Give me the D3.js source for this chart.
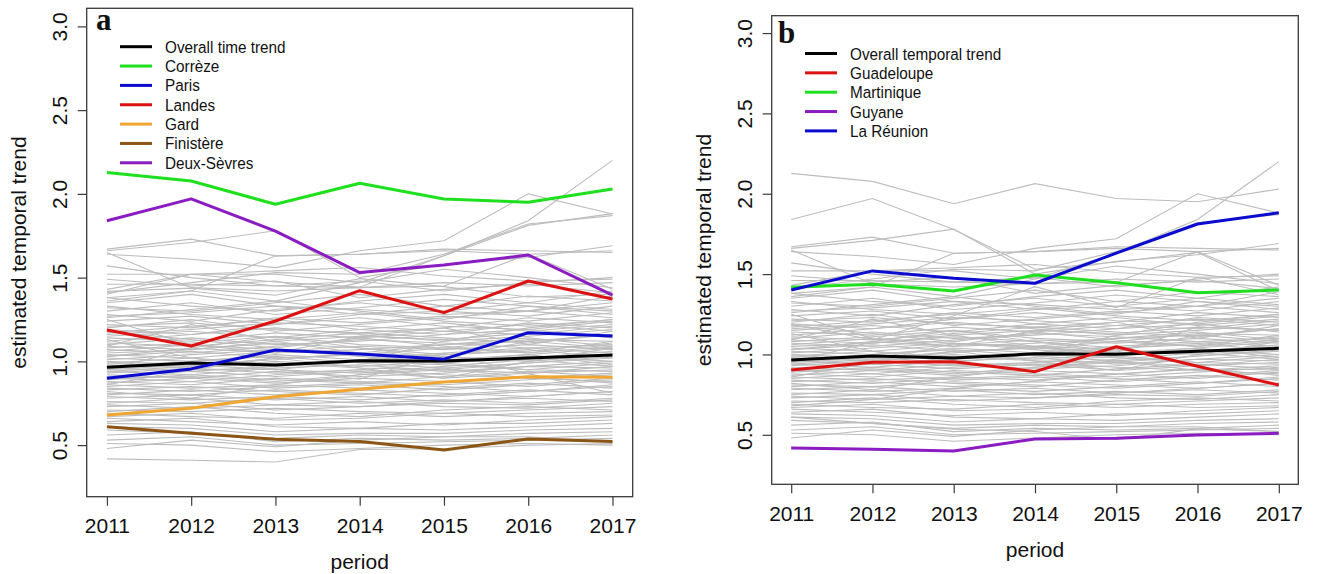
<!DOCTYPE html>
<html>
<head>
<meta charset="utf-8">
<script src="https://cdn.jsdelivr.net/npm/d3@7/dist/d3.min.js"></script>
<style>
  html, body { margin: 0; padding: 0; background: #fff; }
  svg { display: block; }
  text { font-family: "Liberation Sans", Arial, sans-serif; fill: #111; }
</style>
</head>
<body>
<svg id="chart" width="1317" height="574"></svg>
<script>
// ---- data -------------------------------------------------------------
const years = [2011, 2012, 2013, 2014, 2015, 2016, 2017];
const yTicks = [0.5, 1.0, 1.5, 2.0, 2.5, 3.0];

// overall trend (same in both panels)
const overallTrend = [0.965, 0.99, 0.978, 1.004, 1.002, 1.02, 1.038];

// metropolitan departments highlighted in panel a
const correze    = [2.127, 2.077, 1.938, 2.063, 1.970, 1.950, 2.029];
const paris      = [0.899, 0.955, 1.068, 1.044, 1.013, 1.171, 1.152];
const landes     = [1.187, 1.092, 1.241, 1.422, 1.291, 1.480, 1.372];
const gard       = [0.680, 0.720, 0.789, 0.833, 0.877, 0.908, 0.905];
const finistere  = [0.610, 0.571, 0.535, 0.521, 0.471, 0.537, 0.521];
const deuxSevres = [1.840, 1.970, 1.778, 1.530, 1.575, 1.635, 1.396];

// overseas departments highlighted in panel b
const guadeloupe = [0.903, 0.951, 0.955, 0.893, 1.048, 0.927, 0.810];
const martinique = [1.418, 1.437, 1.395, 1.494, 1.446, 1.384, 1.401];
const guyane     = [0.418, 0.410, 0.399, 0.474, 0.478, 0.499, 0.509];
const laReunion  = [1.401, 1.520, 1.474, 1.443, 1.630, 1.812, 1.882];

// remaining departments (drawn in grey)
const otherDepartments = [
  [1.38, 1.42, 1.36, 1.47, 1.63, 1.84, 2.20],
  [1.64, 1.61, 1.56, 1.66, 1.72, 2.00, 1.88],
  [1.41, 1.47, 1.53, 1.52, 1.64, 1.82, 1.87],
  [1.67, 1.73, 1.63, 1.64, 1.66, 1.64, 1.66],
  [1.66, 1.71, 1.78, 1.50, 1.58, 1.62, 1.69],
  [1.65, 1.44, 1.42, 1.44, 1.45, 1.64, 1.43],
  [1.57, 1.50, 1.45, 1.48, 1.42, 1.47, 1.50],
  [1.52, 1.52, 1.54, 1.56, 1.51, 1.48, 1.49],
  [1.46, 1.46, 1.45, 1.44, 1.47, 1.45, 1.47],
  [1.36, 1.42, 1.63, 1.64, 1.67, 1.66, 1.65],
  [1.43, 1.52, 1.52, 1.47, 1.55, 1.50, 1.44],
  [1.49, 1.45, 1.48, 1.38, 1.43, 1.46, 1.41],
  [1.38, 1.33, 1.30, 1.36, 1.40, 1.35, 1.42],
  [1.35, 1.40, 1.33, 1.28, 1.33, 1.39, 1.36],
  [1.32, 1.30, 1.35, 1.40, 1.33, 1.30, 1.35],
  [1.30, 1.35, 1.28, 1.32, 1.37, 1.33, 1.30],
  [1.28, 1.24, 1.31, 1.35, 1.30, 1.27, 1.33],
  [1.26, 1.31, 1.36, 1.30, 1.25, 1.33, 1.28],
  [1.24, 1.27, 1.22, 1.28, 1.30, 1.35, 1.31],
  [1.22, 1.20, 1.26, 1.23, 1.27, 1.24, 1.29],
  [1.20, 1.25, 1.18, 1.22, 1.26, 1.30, 1.26],
  [1.19, 1.16, 1.22, 1.26, 1.21, 1.19, 1.24],
  [1.17, 1.21, 1.25, 1.19, 1.16, 1.23, 1.20],
  [1.15, 1.18, 1.14, 1.19, 1.23, 1.18, 1.22],
  [1.14, 1.12, 1.17, 1.14, 1.18, 1.22, 1.18],
  [1.12, 1.16, 1.20, 1.16, 1.12, 1.15, 1.19],
  [1.11, 1.09, 1.13, 1.17, 1.14, 1.11, 1.16],
  [1.10, 1.14, 1.10, 1.12, 1.16, 1.19, 1.14],
  [1.08, 1.11, 1.15, 1.10, 1.08, 1.13, 1.12],
  [1.07, 1.05, 1.09, 1.13, 1.11, 1.08, 1.10],
  [1.06, 1.10, 1.07, 1.05, 1.10, 1.14, 1.09],
  [1.05, 1.07, 1.11, 1.08, 1.04, 1.06, 1.11],
  [1.04, 1.02, 1.06, 1.09, 1.07, 1.10, 1.07],
  [1.03, 1.06, 1.02, 1.04, 1.08, 1.05, 1.09],
  [1.02, 1.00, 1.04, 1.01, 1.05, 1.08, 1.05],
  [1.01, 1.04, 1.07, 1.03, 0.99, 1.02, 1.06],
  [1.00, 0.98, 1.01, 1.05, 1.03, 1.00, 1.04],
  [0.99, 1.02, 0.98, 1.00, 1.04, 1.07, 1.02],
  [0.98, 0.96, 1.00, 0.97, 1.00, 1.03, 1.00],
  [0.97, 1.00, 1.03, 0.99, 0.96, 0.99, 1.03],
  [0.96, 0.94, 0.97, 1.00, 0.98, 0.95, 0.99],
  [0.95, 0.98, 0.95, 0.93, 0.97, 1.01, 0.97],
  [0.94, 0.92, 0.96, 0.98, 0.94, 0.97, 1.00],
  [0.93, 0.96, 0.93, 0.95, 0.99, 0.95, 0.94],
  [0.92, 0.90, 0.94, 0.91, 0.93, 0.97, 0.96],
  [0.91, 0.94, 0.91, 0.94, 0.90, 0.93, 0.97],
  [0.90, 0.88, 0.92, 0.95, 0.92, 0.90, 0.93],
  [0.89, 0.92, 0.89, 0.87, 0.91, 0.94, 0.91],
  [0.88, 0.86, 0.90, 0.88, 0.86, 0.89, 0.92],
  [0.87, 0.90, 0.87, 0.90, 0.88, 0.85, 0.89],
  [0.86, 0.84, 0.86, 0.84, 0.88, 0.91, 0.87],
  [0.85, 0.88, 0.84, 0.86, 0.83, 0.86, 0.90],
  [0.84, 0.82, 0.85, 0.87, 0.85, 0.82, 0.85],
  [0.83, 0.85, 0.82, 0.80, 0.84, 0.87, 0.84],
  [0.81, 0.80, 0.83, 0.81, 0.79, 0.82, 0.86],
  [0.80, 0.83, 0.80, 0.83, 0.81, 0.79, 0.82],
  [0.79, 0.77, 0.79, 0.77, 0.80, 0.83, 0.80],
  [0.78, 0.80, 0.77, 0.79, 0.76, 0.79, 0.82],
  [0.76, 0.75, 0.78, 0.75, 0.77, 0.75, 0.78],
  [0.75, 0.78, 0.74, 0.73, 0.76, 0.78, 0.76],
  [0.74, 0.72, 0.74, 0.76, 0.73, 0.72, 0.75],
  [0.73, 0.75, 0.71, 0.73, 0.75, 0.74, 0.77],
  [0.71, 0.70, 0.72, 0.70, 0.69, 0.71, 0.73],
  [0.70, 0.73, 0.69, 0.67, 0.71, 0.73, 0.71],
  [0.69, 0.67, 0.66, 0.69, 0.67, 0.69, 0.70],
  [0.67, 0.69, 0.65, 0.66, 0.69, 0.67, 0.68],
  [0.66, 0.64, 0.62, 0.64, 0.62, 0.65, 0.67],
  [0.64, 0.66, 0.61, 0.60, 0.63, 0.63, 0.65],
  [0.63, 0.62, 0.58, 0.60, 0.59, 0.61, 0.63],
  [0.61, 0.60, 0.56, 0.57, 0.57, 0.59, 0.60],
  [0.59, 0.57, 0.54, 0.56, 0.55, 0.57, 0.58],
  [0.56, 0.58, 0.52, 0.54, 0.53, 0.54, 0.56],
  [0.53, 0.55, 0.50, 0.51, 0.52, 0.53, 0.54],
  [0.48, 0.53, 0.49, 0.53, 0.55, 0.55, 0.52],
  [0.51, 0.50, 0.46, 0.48, 0.50, 0.51, 0.50],
  [1.25, 1.10, 1.05, 1.15, 1.20, 1.10, 1.18],
  [0.95, 1.08, 1.15, 1.08, 1.02, 1.12, 1.16],
  [1.13, 1.02, 0.95, 1.00, 1.12, 1.20, 1.25],
  [0.86, 0.95, 1.02, 0.96, 0.90, 1.00, 1.08],
  [1.09, 1.22, 1.12, 1.05, 1.00, 1.04, 0.98],
  [0.82, 0.78, 0.86, 0.92, 0.96, 0.90, 0.88],
  [1.18, 1.13, 1.08, 1.14, 1.09, 1.05, 1.12],
  [1.21, 1.23, 1.19, 1.17, 1.20, 1.26, 1.23],
  [1.16, 1.19, 1.23, 1.21, 1.18, 1.16, 1.21],
  [1.09, 1.07, 1.12, 1.15, 1.13, 1.17, 1.15],
  [1.03, 1.08, 1.05, 1.07, 1.10, 1.12, 1.08],
  [0.99, 0.97, 1.02, 1.04, 1.01, 1.04, 1.08],
  [0.94, 0.97, 0.99, 0.96, 0.95, 0.99, 1.02],
  [0.90, 0.91, 0.88, 0.92, 0.95, 0.93, 0.95],
  [1.33, 1.28, 1.25, 1.29, 1.24, 1.21, 1.25],
  [1.27, 1.29, 1.33, 1.31, 1.28, 1.30, 1.39]
];

// ---- chart ------------------------------------------------------------
const allDepartments = otherDepartments.concat([
  correze, paris, landes, gard, finistere, deuxSevres,
  guadeloupe, martinique, guyane, laReunion
]);

const colors = {
  black: "#000000", green: "#1fe01f", blue: "#0b0bd0", red: "#dc1212",
  orange: "#f0a632", brown: "#8b5516", purple: "#8a1cc2"
};

const panels = [
  {
    letter: "a",
    box: { left: 86.7, right: 632.7, top: 8.3, bottom: 496.7 },
    letterPos: [96, 30],
    legendPos: [120, 46.7],
    series: [
      { name: "Overall time trend", values: overallTrend, color: colors.black },
      { name: "Corrèze", values: correze, color: colors.green },
      { name: "Paris", values: paris, color: colors.blue },
      { name: "Landes", values: landes, color: colors.red },
      { name: "Gard", values: gard, color: colors.orange },
      { name: "Finistère", values: finistere, color: colors.brown },
      { name: "Deux-Sèvres", values: deuxSevres, color: colors.purple }
    ]
  },
  {
    letter: "b",
    box: { left: 771.7, right: 1298.3, top: 15.7, bottom: 484.3 },
    letterPos: [778, 42.5],
    legendPos: [805, 53.5],
    series: [
      { name: "Overall temporal trend", values: overallTrend, color: colors.black },
      { name: "Guadeloupe", values: guadeloupe, color: colors.red },
      { name: "Martinique", values: martinique, color: colors.green },
      { name: "Guyane", values: guyane, color: colors.purple },
      { name: "La Réunion", values: laReunion, color: colors.blue }
    ]
  }
];

const svg = d3.select("#chart");
const xPad = 0.04 * (years[years.length - 1] - years[0]);
const yLo = 0.3, yHi = 3.0, yPad = 0.04 * (yHi - yLo);

panels.forEach(p => {
  const b = p.box;
  const x = d3.scaleLinear()
    .domain([years[0] - xPad, years[years.length - 1] + xPad])
    .range([b.left, b.right]);
  const y = d3.scaleLinear()
    .domain([yLo - yPad, yHi + yPad])
    .range([b.bottom, b.top]);

  const g = svg.append("g");

  const clipId = "clip-" + p.letter;
  g.append("clipPath").attr("id", clipId)
    .append("rect")
    .attr("x", b.left).attr("y", b.top)
    .attr("width", b.right - b.left).attr("height", b.bottom - b.top);

  const line = d3.line()
    .x((d, i) => x(years[i]))
    .y(d => y(d));

  const plot = g.append("g").attr("clip-path", `url(#${clipId})`);

  // grey background lines for every department
  plot.selectAll("path.dept")
    .data(allDepartments)
    .join("path")
    .attr("class", "dept")
    .attr("d", line)
    .attr("fill", "none")
    .attr("stroke", "#bdbdbd")
    .attr("stroke-width", 1.1);

  // highlighted series
  plot.selectAll("path.hl")
    .data(p.series)
    .join("path")
    .attr("class", "hl")
    .attr("d", d => line(d.values))
    .attr("fill", "none")
    .attr("stroke", d => d.color)
    .attr("stroke-width", 3)
    .attr("stroke-linejoin", "round");

  // frame
  g.append("rect")
    .attr("x", b.left).attr("y", b.top)
    .attr("width", b.right - b.left).attr("height", b.bottom - b.top)
    .attr("fill", "none").attr("stroke", "#3a3a3a").attr("stroke-width", 1.3);

  // x axis
  const xAxis = g.append("g")
    .attr("transform", `translate(0,${b.bottom})`)
    .call(d3.axisBottom(x).tickValues(years).tickFormat(d3.format("d"))
      .tickSize(9).tickSizeOuter(0));
  xAxis.select(".domain").remove();
  xAxis.selectAll(".tick line").attr("stroke", "#3a3a3a").attr("stroke-width", 1.2);
  xAxis.selectAll(".tick text")
    .attr("y", 36.3).attr("dy", 0)
    .style("font-size", "21px")
    .style("font-family", "'Liberation Sans', Arial, sans-serif")
    .attr("fill", "#111");

  // y axis with labels rotated parallel to the axis
  const yAxis = g.append("g")
    .attr("transform", `translate(${b.left},0)`)
    .call(d3.axisLeft(y).tickValues(yTicks).tickFormat(d3.format(".1f"))
      .tickSize(9).tickSizeOuter(0));
  yAxis.select(".domain").remove();
  yAxis.selectAll(".tick line").attr("stroke", "#3a3a3a").attr("stroke-width", 1.2);
  yAxis.selectAll(".tick text")
    .attr("x", 0).attr("y", 0).attr("dy", 0)
    .attr("text-anchor", "middle")
    .attr("transform", "translate(-19.7,0) rotate(-90)")
    .style("font-size", "21px")
    .style("font-family", "'Liberation Sans', Arial, sans-serif")
    .attr("fill", "#111");

  // axis titles
  g.append("text")
    .attr("x", (b.left + b.right) / 2).attr("y", b.bottom + 72.5)
    .attr("text-anchor", "middle")
    .style("font-size", "21px")
    .text("period");

  g.append("text")
    .attr("transform", `translate(${b.left - 60.5},${(b.top + b.bottom) / 2}) rotate(-90)`)
    .attr("text-anchor", "middle")
    .style("font-size", "21px")
    .text("estimated temporal trend");

  // panel letter
  g.append("text")
    .attr("x", p.letterPos[0]).attr("y", p.letterPos[1])
    .style("font-family", "'Liberation Serif', 'Times New Roman', serif")
    .style("font-weight", "bold")
    .style("font-size", "31px")
    .text(p.letter);

  // legend
  const lg = g.append("g")
    .attr("transform", `translate(${p.legendPos[0]},${p.legendPos[1]})`);
  const rows = lg.selectAll("g.row")
    .data(p.series)
    .join("g")
    .attr("class", "row")
    .attr("transform", (d, i) => `translate(0,${i * 19.35})`);
  rows.append("line")
    .attr("x1", 0).attr("x2", 32)
    .attr("stroke", d => d.color)
    .attr("stroke-width", 3);
  rows.append("text")
    .attr("transform", "translate(45,6) scale(0.9,1)")
    .style("font-size", "17px")
    .attr("fill", "#222")
    .text(d => d.name);
});
</script>
</body>
</html>
